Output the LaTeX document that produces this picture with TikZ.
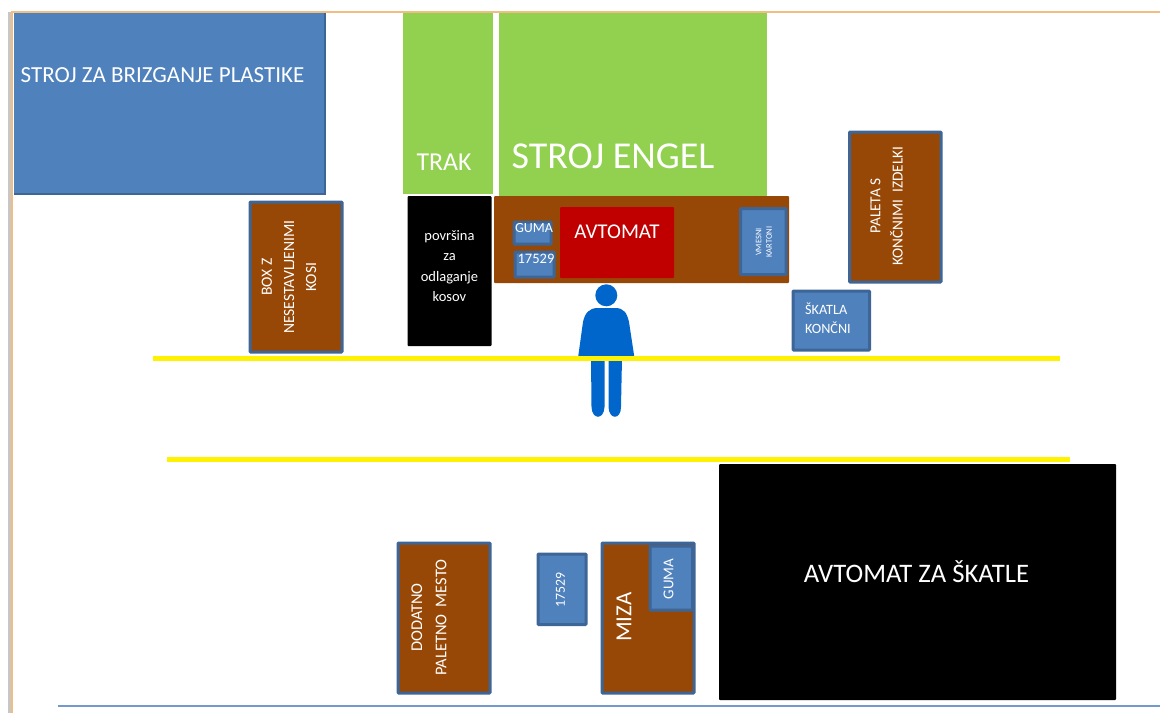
\documentclass[tikz,border=0pt]{standalone}
\usepackage{fontspec}
\setmainfont{Carlito}
\definecolor{bluefill}{HTML}{4F81BD}
\definecolor{blueline}{HTML}{3D6596}
\definecolor{brownfill}{HTML}{984806}
\definecolor{greenfill}{HTML}{92D050}
\definecolor{redfill}{HTML}{C00000}
\definecolor{personblue}{HTML}{0066CC}
\definecolor{framecol}{HTML}{F0BE82}
\tikzset{
  bluebox/.style={draw=blueline,line width=3pt,fill=bluefill,rounded corners=.8pt},
  brownbox/.style={draw=blueline,line width=3pt,fill=brownfill,rounded corners=.8pt},
  greenbox/.style={fill=greenfill},
  blackbox/.style={fill=black,rounded corners=1pt},
  lbl/.style={text=white,inner sep=0pt,align=center},
  walk/.style={draw=yellow,line width=4.2pt},
  person/.style={fill=personblue,draw=none}
}
\newcommand{\fs}[1]{\fontsize{#1}{#1}\selectfont}
\begin{document}
\begin{tikzpicture}[x=1pt,y=-1pt]
\useasboundingbox (0,0) rectangle (1160,713);
% page frame
\fill[black!22] (8,12) rectangle (11,713);
\coordinate (f1) at (12,713); \coordinate (f2) at (12,12); \coordinate (f3) at (1160,12);
\draw[framecol,line width=2pt] (f1) -- (f2) -- (f3);
% top machines
\fill[bluefill] (13.5,13) rectangle (325,194);
\draw[blueline,line width=2pt] (324.5,13) -- (324.5,193.5) -- (13.5,193.5);
\node[lbl,font=\fs{23}] (stroj) at (162.5,75) {STROJ ZA BRIZGANJE PLASTIKE};
\fill[greenbox] (403,13) rectangle (493,194);
\node[lbl,font=\fs{25.8}] (trak) at (444,162) {TRAK};
\fill[greenbox] (499,13) rectangle (767,197);
\node[lbl,font=\fs{38}] (engel) at (613,156) {STROJ ENGEL};
% automat table
\fill[brownfill,rounded corners=1pt] (494,196) rectangle (789,283);
\fill[redfill,rounded corners=1pt] (560,207) rectangle (674,278);
\node[lbl,font=\fs{21}] (avt) at (617,232) {AVTOMAT};
\draw[bluebox] (514,222) rectangle (551,244);
\node[lbl,font=\fs{14}] (guma1) at (534,228) {GUMA};
\draw[bluebox] (515,252) rectangle (554,277);
\node[lbl,font=\fs{14.5}] (st1) at (536,259) {17529};
\draw[bluebox] (740.5,208.5) rectangle (786,274.5);
\node[lbl,font=\fs{8.5},rotate=90] (vk) at (764,242) {VMESNI\\[2pt]KARTONI};
% left box
\draw[brownbox] (250,202) rectangle (342,352);
\node[lbl,font=\fs{15.6},rotate=90] (box) at (289,277) {BOX Z\\[6.5pt]NESESTAVLJENIMI\\[6.5pt]KOSI};
% black area
\fill[blackbox] (407.5,196) rectangle (491.5,346);
\node[lbl,font=\fs{14.5}] (pov) at (449.5,266) {površina\\[6pt]za\\[6pt]odlaganje\\[6pt]kosov};
% right boxes
\draw[brownbox] (849.5,132) rectangle (941,282);
\node[lbl,font=\fs{15.3},rotate=90] (pal) at (886.5,206) {PALETA S\\[7pt]KONČNIMI\ \ IZDELKI};
\draw[bluebox] (793,291) rectangle (869.5,350);
\node[lbl,font=\fs{14.2},align=left,anchor=west] (sk) at (805,318) {ŠKATLA\\[5pt]KONČNI};
% walkway
\coordinate (w1a) at (153,358.5); \coordinate (w1b) at (1060,358.5);
\coordinate (w2a) at (167,459.5); \coordinate (w2b) at (1070,459.5);
% person
\fill[person] (606.3,295.3) circle (11);
\fill[person] (598,308) -- (615,308) .. controls (624,308) and (627,313) .. (629,322)
  -- (634.5,358) -- (622,358) -- (621,407) .. controls (621,420) and (609,420) .. (608.5,407)
  -- (608.5,358) -- (604.5,358) -- (604.5,407) .. controls (604,420) and (592,420) .. (591.5,407)
  -- (591,358) -- (578,358) -- (583,322) .. controls (585,313) and (589,308) .. (598,308) -- cycle;
\draw[walk] (w1a) -- (w1b);
\draw[walk] (w2a) -- (w2b);
% bottom row
\fill[blackbox] (719,464) rectangle (1116,700);
\node[lbl,font=\fs{26.7}] (avs) at (916.5,572) {AVTOMAT ZA ŠKATLE};
\draw[brownbox] (398,543) rectangle (490,693);
\node[lbl,font=\fs{16.4},rotate=90] (dod) at (429,617.5) {DODATNO\\[8pt]PALETNO\ \ MESTO};
\draw[bluebox] (538,554) rectangle (586,624.5);
\node[lbl,font=\fs{13.8},rotate=90] (st2) at (560.5,590) {17529};
\draw[brownbox] (602,543) rectangle (694,693);
\node[lbl,font=\fs{23},rotate=90] (miza) at (624,617) {MIZA};
\draw[bluebox] (650,546) rectangle (692.5,610);
\node[lbl,font=\fs{15},rotate=90] (gum2) at (668.5,579) {GUMA};
% bottom rule
\coordinate (r1) at (58,706); \coordinate (r2) at (1160,706);
\draw[bluefill!80!white,line width=1.3pt] (r1) -- (r2);
\end{tikzpicture}
\end{document}
